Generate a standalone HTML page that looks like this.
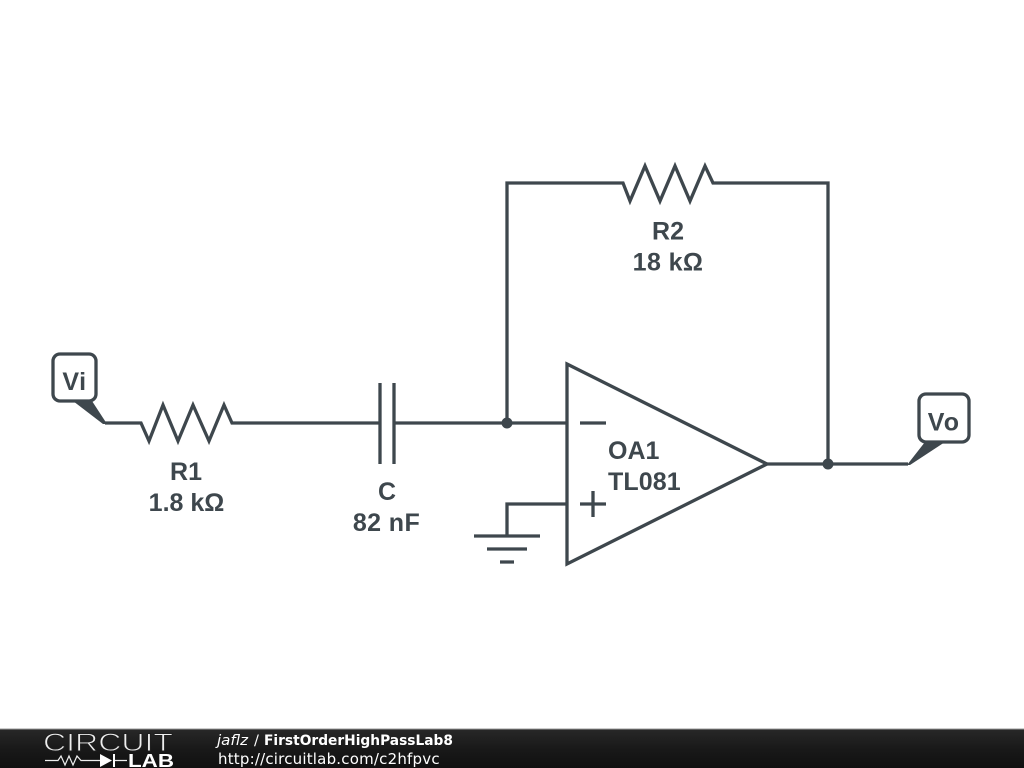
<!DOCTYPE html>
<html><head><meta charset="utf-8"><style>html,body{margin:0;padding:0;background:#fff;width:1024px;height:768px;overflow:hidden}svg{display:block}</style></head>
<body>
<svg width="1024" height="768" viewBox="0 0 1024 768" xmlns="http://www.w3.org/2000/svg">
<defs><linearGradient id="g" x1="0" y1="0" x2="0" y2="1"><stop offset="0" stop-color="#282828"/><stop offset="0.5" stop-color="#191919"/><stop offset="1" stop-color="#101010"/></linearGradient></defs>
<rect width="1024" height="768" fill="#fff"/>
<g fill="none" stroke="#3e474d" stroke-width="3.3" stroke-linejoin="miter" stroke-linecap="butt">
<path d="M105 423H141L149 441L163 405L178 441L193 405L209 441L224 405L232 423H380"/>
<path d="M380 383V464M394 383V464"/>
<path d="M394 423H567"/>
<path d="M507 423V183H623L630 201L645 166L660 201L675 166L690 201L705 166L713 183H828V464"/>
<path d="M567 364L767 464L567 564Z"/>
<path d="M767 464H908"/>
<path d="M580 423H606M580 504H606M593 491V517"/>
<path d="M567 504H507V536M474 536H540M487 549H527M500 562H514"/>
<rect x="53" y="354" width="43" height="47" rx="7" fill="#fff"/>
<rect x="919" y="394" width="50" height="48" rx="7" fill="#fff"/>
</g>
<g fill="#3e474d">
<path d="M73 401H92L107 424H103Z"/>
<path d="M925 442H945L910 465H907Z"/>
<circle cx="507" cy="423" r="5.500"/>
<circle cx="828" cy="464" r="5.500"/>
</g>
<g fill="#3e474d" font-family="'Liberation Sans',sans-serif" font-weight="bold" font-size="25">
<text x="74.500" y="390" text-anchor="middle" letter-spacing="0.5">Vi</text>
<text x="944" y="430.500" text-anchor="middle" letter-spacing="1.2">Vo</text>
<text x="186" y="480" text-anchor="middle">R1</text>
<text x="186.500" y="511" text-anchor="middle">1.8 kΩ</text>
<text x="387" y="500" text-anchor="middle">C</text>
<text x="386.500" y="531" text-anchor="middle" letter-spacing="0.4">82 nF</text>
<text x="668" y="239.500" text-anchor="middle">R2</text>
<text x="668" y="270.500" text-anchor="middle" letter-spacing="0.4">18 kΩ</text>
<text x="608" y="459">OA1</text>
<text x="608" y="490" letter-spacing="0.1">TL081</text>
</g>
<rect y="729" width="1024" height="39" fill="url(#g)"/>
<rect y="728.500" width="1024" height="1" fill="#999"/>
<text x="43" y="751" font-family="'Liberation Sans',sans-serif" font-size="25" fill="#eee" stroke="#1f1f1f" stroke-width="0.9" textLength="130" lengthAdjust="spacingAndGlyphs">CIRCUIT</text>
<path d="M45 760.500H58L61 756L65 765L69 756L73 765L77 756L81 760.500H100M114 760.500H127" fill="none" stroke="#eee" stroke-width="1.200"/>
<path d="M100 754L112 760.500L100 767Z M113 754H115V767H113Z" fill="#fff"/>
<text x="128" y="767" font-family="'Liberation Sans',sans-serif" font-weight="bold" font-size="18" fill="#fff" textLength="46" lengthAdjust="spacingAndGlyphs">LAB</text>
<g font-family="'DejaVu Sans',sans-serif" font-size="14.500" fill="#fff">
<text x="217" y="745" font-style="italic" textLength="31" lengthAdjust="spacingAndGlyphs">jaflz</text>
<text x="254" y="745">/</text>
<text x="264" y="745" font-weight="bold" textLength="189" lengthAdjust="spacingAndGlyphs">FirstOrderHighPassLab8</text>
<text x="218" y="764" font-size="15" letter-spacing="0.2">http://circuitlab.com/c2hfpvc</text>
</g>
</svg>
</body></html>
